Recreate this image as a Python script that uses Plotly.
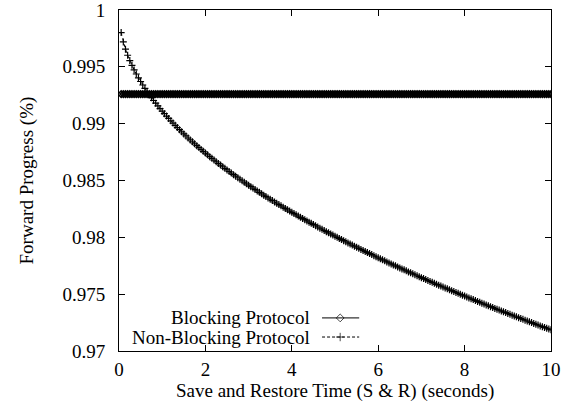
import plotly.graph_objects as go

# Sampling grid (seconds)
SAVE_RESTORE_TIME = [round(0.05 * k, 2) for k in range(1, 201)]

# Non-blocking protocol forward progress
NON_BLOCKING = [
    0.99801, 0.99719, 0.99655, 0.99602, 0.99555, 0.99513, 0.99473, 0.99437, 0.99403, 0.99371,
    0.99340, 0.99311, 0.99282, 0.99255, 0.99229, 0.99204, 0.99180, 0.99156, 0.99133, 0.99110,
    0.99088, 0.99067, 0.99046, 0.99025, 0.99005, 0.98985, 0.98966, 0.98947, 0.98928, 0.98910,
    0.98892, 0.98874, 0.98857, 0.98840, 0.98823, 0.98806, 0.98790, 0.98773, 0.98757, 0.98741,
    0.98726, 0.98710, 0.98695, 0.98680, 0.98665, 0.98650, 0.98636, 0.98621, 0.98607, 0.98593,
    0.98579, 0.98565, 0.98551, 0.98538, 0.98524, 0.98511, 0.98498, 0.98485, 0.98471, 0.98459,
    0.98446, 0.98433, 0.98421, 0.98408, 0.98396, 0.98383, 0.98371, 0.98359, 0.98347, 0.98335,
    0.98323, 0.98311, 0.98300, 0.98288, 0.98277, 0.98265, 0.98254, 0.98242, 0.98231, 0.98220,
    0.98209, 0.98198, 0.98187, 0.98176, 0.98165, 0.98155, 0.98144, 0.98133, 0.98123, 0.98112,
    0.98102, 0.98091, 0.98081, 0.98071, 0.98060, 0.98050, 0.98040, 0.98030, 0.98020, 0.98010,
    0.98000, 0.97990, 0.97980, 0.97971, 0.97961, 0.97951, 0.97942, 0.97932, 0.97922, 0.97913,
    0.97903, 0.97894, 0.97885, 0.97875, 0.97866, 0.97857, 0.97848, 0.97838, 0.97829, 0.97820,
    0.97811, 0.97802, 0.97793, 0.97784, 0.97775, 0.97766, 0.97757, 0.97749, 0.97740, 0.97731,
    0.97722, 0.97714, 0.97705, 0.97696, 0.97688, 0.97679, 0.97671, 0.97662, 0.97654, 0.97645,
    0.97637, 0.97629, 0.97620, 0.97612, 0.97604, 0.97596, 0.97587, 0.97579, 0.97571, 0.97563,
    0.97555, 0.97547, 0.97539, 0.97531, 0.97523, 0.97515, 0.97507, 0.97499, 0.97491, 0.97483,
    0.97475, 0.97467, 0.97459, 0.97452, 0.97444, 0.97436, 0.97428, 0.97421, 0.97413, 0.97405,
    0.97398, 0.97390, 0.97383, 0.97375, 0.97367, 0.97360, 0.97353, 0.97345, 0.97338, 0.97330,
    0.97323, 0.97315, 0.97308, 0.97301, 0.97293, 0.97286, 0.97279, 0.97271, 0.97264, 0.97257,
    0.97250, 0.97243, 0.97235, 0.97228, 0.97221, 0.97214, 0.97207, 0.97200, 0.97193, 0.97186,
]

# Blocking protocol forward progress is flat
BLOCKING_LEVEL = 0.9926
BLOCKING = [BLOCKING_LEVEL] * len(SAVE_RESTORE_TIME)

SERIES_NAMES = ["Blocking Protocol", "Non-Blocking Protocol"]

X_TICKS = [0, 2, 4, 6, 8, 10]
X_TICK_TEXT = ["0", "2", "4", "6", "8", "10"]
Y_TICKS = [0.97, 0.975, 0.98, 0.985, 0.99, 0.995, 1.0]
Y_TICK_TEXT = ["0.97", "0.975", "0.98", "0.985", "0.99", "0.995", "1"]

X_TITLE = "Save and Restore Time (S & R) (seconds)"
Y_TITLE = "Forward Progress (%)"

FONT = "Liberation Serif, Times New Roman, serif"
FS = 19

fig = go.Figure()

fig.add_trace(go.Scatter(
    x=SAVE_RESTORE_TIME, y=BLOCKING, mode="lines+markers", name=SERIES_NAMES[0],
    line=dict(color="black", width=1),
    marker=dict(symbol="diamond-open", size=5, color="black", line=dict(width=1.5, color="black")),
    showlegend=False,
))
fig.add_trace(go.Scatter(
    x=SAVE_RESTORE_TIME, y=NON_BLOCKING, mode="lines+markers", name=SERIES_NAMES[1],
    line=dict(color="black", width=1, dash="dot"),
    marker=dict(symbol="cross-thin-open", size=5, color="black", line=dict(width=1.2, color="black")),
    showlegend=False,
))

# gnuplot-style key: text right-aligned, sample to the right (on an overlay 0..1 axis)
key_rows = [0.097, 0.041]
key_text_x = 0.447
key_sample = [0.47, 0.512, 0.556]
styles = [
    dict(dash="solid", symbol="diamond-open"),
    dict(dash="3px,2px", symbol="cross-thin-open"),
]
for name, yrow, st in zip(SERIES_NAMES, key_rows, styles):
    fig.add_annotation(
        x=key_text_x, y=yrow, xref="paper", yref="paper", text=name, showarrow=False,
        xanchor="right", yanchor="middle", font=dict(family=FONT, size=FS, color="black"),
    )
    fig.add_trace(go.Scatter(
        x=key_sample, y=[yrow] * 3, xaxis="x2", yaxis="y2", mode="lines+markers",
        line=dict(color="black", width=1, dash=st["dash"]),
        marker=dict(symbol=st["symbol"], size=[0, 6, 0], color="black",
                    line=dict(width=1, color="black")),
        showlegend=False, hoverinfo="skip",
    ))

# axis titles placed as text so their distance from the frame matches
fig.add_annotation(
    x=0.5, y=-0.117, xref="paper", yref="paper", text=X_TITLE, showarrow=False,
    xanchor="center", yanchor="middle", font=dict(family=FONT, size=FS, color="black"),
)
fig.add_annotation(
    x=-0.213, y=0.5, xref="paper", yref="paper", text=Y_TITLE, showarrow=False,
    textangle=-90, xanchor="center", yanchor="middle",
    font=dict(family=FONT, size=FS, color="black"),
)

axis_common = dict(
    showline=True, linecolor="black", linewidth=1, mirror="ticks",
    ticks="inside", ticklen=6, tickwidth=1, tickcolor="black",
    showgrid=False, zeroline=False, automargin=False,
    ticklabeloverflow="allow",
    tickfont=dict(family=FONT, size=FS, color="black"),
)

fig.update_layout(
    width=571, height=403,
    margin=dict(l=119, r=20, t=10, b=52, autoexpand=False),
    paper_bgcolor="white", plot_bgcolor="white",
    font=dict(family=FONT, size=FS, color="black"),
    xaxis=dict(range=[0, 10], tickvals=X_TICKS, ticktext=X_TICK_TEXT,
               ticklabelstandoff=1, **axis_common),
    yaxis=dict(range=[0.97, 1.0], tickvals=Y_TICKS, ticktext=Y_TICK_TEXT,
               ticklabelstandoff=9, **axis_common),
    xaxis2=dict(range=[0, 1], overlaying="x", visible=False, fixedrange=True),
    yaxis2=dict(range=[0, 1], overlaying="y", visible=False, fixedrange=True),
    showlegend=False,
)

# remove the page's default body margin so the figure sits at the window's corner
fig.write_html(
    "out.html",
    config={"displayModeBar": False},
    post_script="document.body.style.margin='0';",
)
